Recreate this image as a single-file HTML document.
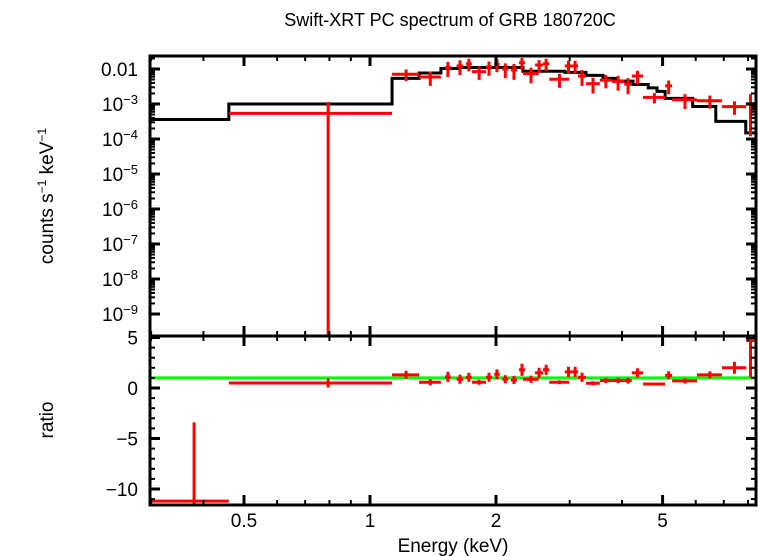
<!DOCTYPE html>
<html><head><meta charset="utf-8"><style>
html,body{margin:0;padding:0;background:#fff;}
svg{display:block;font-family:"Liberation Sans",sans-serif;}
</style></head><body>
<svg id="c" width="758" height="556" viewBox="0 0 758 556" xmlns="http://www.w3.org/2000/svg">
<text x="450" y="26" font-size="18" text-anchor="middle">Swift-XRT PC spectrum of GRB 180720C</text>
<text x="453" y="552" font-size="19" text-anchor="middle">Energy (keV)</text>
<text transform="translate(53,196) rotate(-90)" font-size="19" text-anchor="middle">counts s<tspan baseline-shift="super" font-size="12">−1</tspan> keV<tspan baseline-shift="super" font-size="12">−1</tspan></text>
<text transform="translate(53,420) rotate(-90)" font-size="19" text-anchor="middle">ratio</text>
<g id="g"></g>
</svg>
<script>
// data bins (keV)
const dataLo = [0.46,1.129,1.31,1.51,1.61,1.695,1.753,1.893,1.98,2.07,2.17,2.27,2.32,2.48,2.59,2.68,2.92,3.04,3.14,3.28,3.54,3.78,4.05,4.22,4.49,5.07,5.27,6.04,6.93,7.92];
const dataHi = [1.129,1.31,1.477,1.56,1.67,1.75,1.893,1.956,2.04,2.14,2.245,2.345,2.53,2.59,2.68,2.99,3.04,3.14,3.28,3.54,3.78,4.05,4.22,4.49,5.07,5.27,6.04,6.93,7.92,8.3];
const rate = [5.4e-4,7.1e-3,5.9e-3,0.0109,0.0122,0.0141,8.4e-3,0.0114,0.0136,0.01,9.4e-3,0.0151,7.4e-3,0.013,0.0141,5.1e-3,0.0122,0.0122,6.3e-3,3.8e-3,4.8e-3,4.4e-3,3.7e-3,6.3e-3,1.54e-3,3.3e-3,1.32e-3,1.24e-3,8.4e-4,1.02e-3];
const rateErr = [6e-4,2.6e-3,2.6e-3,5e-3,5.5e-3,5.5e-3,3.5e-3,5e-3,5.5e-3,4.5e-3,4.5e-3,5.5e-3,3.5e-3,5e-3,5.5e-3,2.2e-3,5e-3,5e-3,3e-3,1.8e-3,2e-3,2e-3,1.8e-3,2.6e-3,5e-4,1.4e-3,6e-4,5e-4,3.5e-4,9e-4];
const ratioLo = [0.3].concat(dataLo);
const ratioHi = [0.46].concat(dataHi);
const ratio = [-11.2,0.5,1.3,0.57,1.1,0.87,1.06,0.57,1.06,1.35,0.87,0.8,1.8,0.87,1.5,1.8,0.57,1.6,1.6,1.06,0.47,0.73,0.73,0.73,1.5,0.4,1.25,0.7,1.3,2.0,4.7];
const ratioErr = [7.8,0.45,0.4,0.3,0.5,0.45,0.45,0.25,0.45,0.5,0.4,0.4,0.6,0.35,0.5,0.5,0.2,0.5,0.5,0.45,0.2,0.25,0.25,0.3,0.45,0.12,0.4,0.25,0.35,0.6,3.6];
// model step
const modelEdges = [0.3,0.46,1.129,1.31,1.477,1.64,2.32,2.92,3.28,3.6,3.9,4.25,4.62,4.85,5.07,5.9,6.7,7.9,8.3];
const modelVal = [3.6e-4,1e-3,5.4e-3,7.7e-3,1.03e-2,1.1e-2,8.6e-3,8.0e-3,6.6e-3,5.4e-3,4.5e-3,3.6e-3,2.9e-3,2.3e-3,1.45e-3,8.5e-4,3.2e-4,1.5e-4];
const topTickVals = [-2,-3,-4,-5,-6,-7,-8,-9];
const topTickLabels = ["0.01","10|−3","10|−4","10|−5","10|−6","10|−7","10|−8","10|−9"];
const ratioTicks = [5,0,-5,-10];
const ratioTickLabels = ["5","0","−5","−10"];
const xTickVals = [0.5,1,2,5];
const xTickLabels = ["0.5","1","2","5"];
const xMinor = [0.3,0.4,0.6,0.7,0.8,0.9,3,4,6,7,8];

const L=150,R=756,T1=56,B1=336,B2=505;
const xs = e => 370 + 418.6*Math.log10(e);
const ys = v => { if(v<=0) return B1; const y = 69 - 35*(Math.log10(v)+2); return Math.min(Math.max(y,T1),B1); };
const yr = r => Math.min(Math.max(388 - 10.1*r, B1), B2);
const NS="http://www.w3.org/2000/svg";
const g=document.getElementById('g');
function mk(tag,attrs){const el=document.createElementNS(NS,tag);for(const k in attrs)el.setAttribute(k,attrs[k]);g.appendChild(el);return el;}
function line(x1,y1,x2,y2,st,w){return mk('line',{x1,y1,x2,y2,stroke:st,'stroke-width':w});}

// model
let d='';
for(let i=0;i<modelVal.length;i++){
  const x1=xs(modelEdges[i]),x2=xs(modelEdges[i+1]),y=ys(modelVal[i]);
  d+=(i?'L':'M')+x1+','+y+'L'+x2+','+y;
}
let p=mk('path',{d,fill:'none',stroke:'#000','stroke-width':3});



// data points
for(let i=0;i<rate.length;i++){
  const x1=xs(dataLo[i]),x2=xs(dataHi[i]),xc=xs((dataLo[i]+dataHi[i])/2),y=ys(rate[i]);
  let a=line(x1,y,x2,y,'#f00',3);
  
  
  let b=line(xc,ys(rate[i]+rateErr[i]),xc,ys(rate[i]-rateErr[i]),'#f00',3);
  
  
}
// ratio line
let gl=line(L,yr(1),R,yr(1),'#0f0',3);


for(let i=0;i<ratio.length;i++){
  const x1=xs(ratioLo[i]),x2=xs(ratioHi[i]),xc=xs((ratioLo[i]+ratioHi[i])/2),y=yr(ratio[i]);
  let a=line(x1,y,x2,y,'#f00',3);
  
  
  let b=line(xc,yr(ratio[i]+ratioErr[i]),xc,yr(ratio[i]-ratioErr[i]),'#f00',3);
  
  
}
// frames
let f1=mk('rect',{x:L,y:T1,width:R-L,height:B1-T1,fill:'none',stroke:'#000','stroke-width':3});


let f2=mk('rect',{x:L,y:B1,width:R-L,height:B2-B1,fill:'none',stroke:'#000','stroke-width':3});



// top y ticks
for(let i=0;i<topTickVals.length;i++){
  const y=ys(Math.pow(10,topTickVals[i]));
  line(L,y,L+10,y,'#000',3);line(R-10,y,R,y,'#000',3);
  for(let m=2;m<10;m++){const ym=ys(m*Math.pow(10,topTickVals[i]));if(ym>T1+1&&ym<B1-1){line(L,ym,L+5,ym,'#000',2);line(R-5,ym,R,ym,'#000',2);}}
  const parts=topTickLabels[i].split('|');
  const t=mk('text',{x:138,y:y+7,'font-size':19,'text-anchor':'end'});
  
  
  if(parts.length>1){t.textContent=parts[0];const s=document.createElementNS(NS,'tspan');s.setAttribute('baseline-shift','super');s.setAttribute('font-size','13');s.textContent=parts[1];t.appendChild(s);}
  else t.textContent=parts[0];
}
// ratio ticks
for(let i=0;i<ratioTicks.length;i++){
  const y=388-10.1*ratioTicks[i];
  line(L,y,L+10,y,'#000',3);line(R-10,y,R,y,'#000',3);
  const t=mk('text',{x:138,y:y+7,'font-size':19,'text-anchor':'end'});
  
  
  t.textContent=ratioTickLabels[i];
}
for(let r=-11;r<=5;r++){if(r%5){const y=388-10.1*r;if(y>B1+1&&y<B2-1){line(L,y,L+5,y,'#000',2);line(R-5,y,R,y,'#000',2);}}}
// x ticks
for(let i=0;i<xTickVals.length;i++){
  const x=xs(xTickVals[i]);
  [[T1,1],[B1,-1],[B1,1],[B2,-1]].forEach(([y,s])=>line(x,y,x,y+s*10,'#000',3));
  const t=mk('text',{x:x,y:527,'font-size':19,'text-anchor':'middle'});
  
  
  t.textContent=xTickLabels[i];
}
xMinor.forEach(v=>{const x=xs(v);if(x>L+1&&x<R-1)[[T1,1],[B1,-1],[B1,1],[B2,-1]].forEach(([y,s])=>line(x,y,x,y+s*5,'#000',2));});
</script>
</body></html>
